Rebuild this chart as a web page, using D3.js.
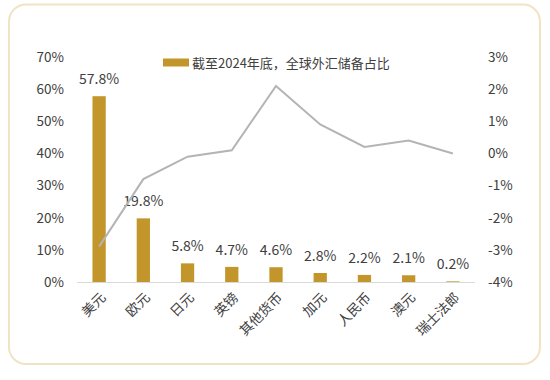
<!DOCTYPE html>
<html><head><meta charset="utf-8">
<script src="https://cdn.jsdelivr.net/npm/d3@7"></script>
<style>body{margin:0;background:#fff;}svg{display:block;}</style>
</head><body>
<svg id="c" width="550" height="380"></svg>
<script>
const categories = ["美元","欧元","日元","英镑","其他货币","加元","人民币","澳元","瑞士法郎"];
const shareValues = [57.8, 19.8, 5.8, 4.7, 4.6, 2.8, 2.2, 2.1, 0.2];
const changeValues = [-2.9, -0.8, -0.1, 0.1, 2.1, 0.9, 0.2, 0.4, 0.0];
const leftTicks = [0,10,20,30,40,50,60,70];
const rightTicks = [-4,-3,-2,-1,0,1,2,3];
const legendLabel = "截至2024年底，全球外汇储备占比";

const svg = d3.select("#c");
const font = "'Noto Sans CJK SC', 'Microsoft YaHei', sans-serif";
const textColor = "#404040";

svg.append("rect").attr("x",9).attr("y",4.5).attr("width",531).attr("height",359.5)
  .attr("rx",17).attr("fill","#fff").attr("stroke","#efe4c4").attr("stroke-width",2);

const x = d3.scaleBand().domain(categories).range([77,475]).paddingInner(0.7).paddingOuter(0.35);
const xc = d3.scalePoint().domain(categories).range([77,475]).padding(0.5);
const yL = d3.scaleLinear().domain([0,70]).range([282,57]);
const yR = d3.scaleLinear().domain([-4,3]).range([282,57]);

// left axis
const gL = svg.append("g").attr("transform","translate(64,0)")
  .call(d3.axisLeft(yL).tickValues(leftTicks).tickFormat(d=>d+"%").tickSize(0).tickPadding(0));
gL.select(".domain").remove();
gL.selectAll("text").attr("font-family",font).attr("font-size",13.5).attr("fill",textColor);

// right axis
const gR = svg.append("g").attr("transform","translate(488,0)")
  .call(d3.axisRight(yR).tickValues(rightTicks).tickFormat(d=>d+"%").tickSize(0).tickPadding(0));
gR.select(".domain").remove();
gR.selectAll("text").attr("font-family",font).attr("font-size",13.5).attr("fill",textColor);

// bars
svg.append("g").selectAll("rect").data(categories).join("rect")
  .attr("x",d=>x(d)).attr("width",x.bandwidth())
  .attr("y",(d,i)=>yL(shareValues[i])).attr("height",(d,i)=>yL(0)-yL(shareValues[i]))
  .attr("fill","#c3962b");

// baseline
svg.append("line").attr("x1",77).attr("x2",475).attr("y1",282.5).attr("y2",282.5)
  .attr("stroke","#d9d9d9").attr("stroke-width",1);

// bar labels
svg.append("g").selectAll("text").data(categories).join("text")
  .attr("x",d=>xc(d)).attr("y",(d,i)=>yL(shareValues[i])-12)
  .attr("text-anchor","middle").attr("font-family",font).attr("font-size",14).attr("fill",textColor)
  .text((d,i)=>shareValues[i].toFixed(1)+"%");

// line
const line = d3.line().x((d,i)=>xc(categories[i])).y(d=>yR(d));
svg.append("path").datum(changeValues).attr("d",line)
  .attr("fill","none").attr("stroke","#b4b4b4").attr("stroke-width",2);

// category labels
svg.append("g").selectAll("text").data(categories).join("text")
  .attr("transform",d=>`translate(${xc(d)+4},${295}) rotate(-45)`)
  .attr("text-anchor","end").attr("dy","0.35em")
  .attr("font-family",font).attr("font-size",13.5).attr("fill",textColor)
  .text(d=>d);

// legend
svg.append("rect").attr("x",163).attr("y",58.5).attr("width",26).attr("height",8).attr("fill","#c3962b");
svg.append("text").attr("x",192).attr("y",63).attr("dy","0.35em")
  .attr("font-family",font).attr("font-size",13).attr("fill",textColor).text(legendLabel);
</script>
</body></html>
